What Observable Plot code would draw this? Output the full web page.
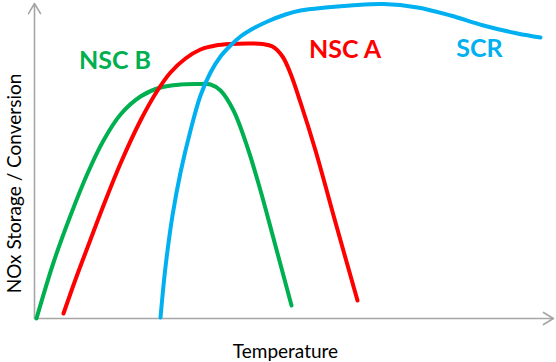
<!DOCTYPE html>
<html><head><meta charset="utf-8">
<script src="https://cdn.jsdelivr.net/npm/d3@7"></script>
<script src="https://cdn.jsdelivr.net/npm/@observablehq/plot@0.6"></script>
<style>body{margin:0;background:#fff}#chart svg{display:block}</style>
</head><body><div id="chart"></div>
<script>
// Arbitrary relative units: temperature 0..520, storage/conversion 0..313
const nscBTemp  = [2, 19, 36, 53, 69, 86, 106, 126, 146, 163, 176, 186, 199, 213, 226, 239, 257];
const nscBValue = [0, 56, 103, 145, 178, 204, 222, 231, 234, 234.5, 234, 228, 208, 171, 128, 80, 13];

const nscATemp  = [29, 41, 53, 69, 86, 106, 123, 136, 151, 166, 181, 196, 216, 228, 238, 248, 256, 266, 281, 301, 323];
const nscAValue = [5, 39, 71, 113, 155, 198, 228, 246, 260, 269, 273, 274.5, 275, 274.5, 272, 262, 245, 216, 168, 96, 18];

const scrTemp  = [126, 129, 132, 138, 146, 156, 166, 176, 186, 196, 206, 216, 233, 251, 266, 291, 316, 349, 383, 416, 449, 483, 506];
const scrValue = [1, 33, 60, 103, 146, 188, 223, 246, 262, 273, 282, 288.5, 297, 304, 308, 311, 313, 314.5, 311, 303, 293, 285, 281];

const seriesNames  = ["NSC B", "NSC A", "SCR"];
const seriesColors = ["#00b050", "#ff0000", "#00b0f0"];
const labelTemp  = [80.5, 310.5, 445];
const labelValue = [257.5, 269, 270];

const xLabel = "Temperature";
const yLabel = "NOx Storage / Conversion";
const xLabelTemp = 251, yLabelValue = 135;
const xAxisEnd = 519, yAxisEnd = 315;

const toRows = (name, xs, ys) => xs.map((x, i) => ({series: name, temp: x, value: ys[i]}));
const rows = [
  ...toRows("NSC B", nscBTemp, nscBValue),
  ...toRows("NSC A", nscATemp, nscAValue),
  ...toRows("SCR", scrTemp, scrValue)
];
const labels = seriesNames.map((s, i) => ({series: s, temp: labelTemp[i], value: labelValue[i]}));

const font = "Lato, 'Open Sans', sans-serif";
const chart = Plot.plot({
  width: 556, height: 362,
  marginLeft: 34, marginRight: 2, marginTop: 5, marginBottom: 44,
  style: {fontFamily: font, background: "#fff"},
  x: {domain: [0, 520], axis: null},
  y: {domain: [0, 313], axis: null},
  color: {domain: seriesNames, range: seriesColors},
  marks: [
    Plot.arrow([{x1: 0, y1: 0, x2: xAxisEnd, y2: 0}, {x1: 0, y1: 0, x2: 0, y2: yAxisEnd}], {
      x1: "x1", y1: "y1", x2: "x2", y2: "y2",
      stroke: "#a6a6a6", strokeWidth: 1.6, headLength: 11, headAngle: 62
    }),
    Plot.line(rows, {x: "temp", y: "value", z: "series", stroke: "series", strokeWidth: 4, curve: "catmull-rom"}),
    Plot.text(labels, {x: "temp", y: "value", text: "series", fill: "series", fontSize: 25, fontWeight: "bold"}),
    Plot.text([xLabel], {x: xLabelTemp, y: 0, text: d => d, dy: 33, fontSize: 19, fill: "#000"}),
    Plot.text([yLabel], {x: 0, y: yLabelValue, text: d => d, dx: -20, rotate: -90, fontSize: 19, fill: "#000"})
  ]
});
document.getElementById("chart").appendChild(chart);
</script>
</body></html>
